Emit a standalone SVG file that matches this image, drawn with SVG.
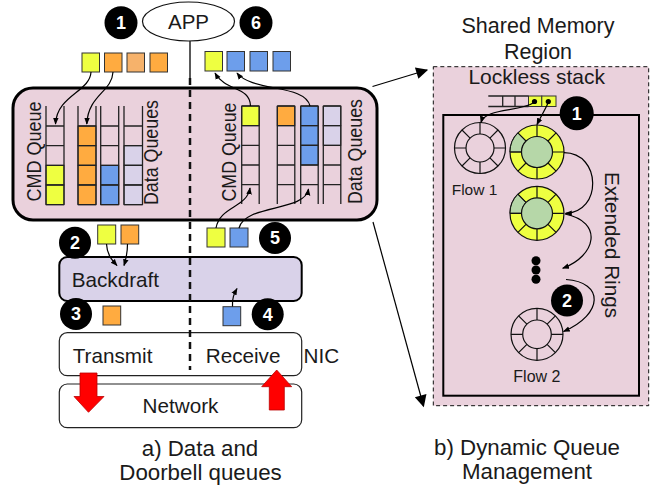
<svg xmlns="http://www.w3.org/2000/svg" width="651" height="486" viewBox="0 0 651 486">
<defs>
<marker id="ah" viewBox="0 0 10 10" refX="9" refY="5" markerWidth="7" markerHeight="7" markerUnits="userSpaceOnUse" orient="auto"><path d="M0,1 L10,5 L0,9 z" fill="#000"/></marker>
<marker id="big" viewBox="0 0 10 10" refX="9" refY="5" markerWidth="16" markerHeight="12" markerUnits="userSpaceOnUse" orient="auto"><path d="M0,0 L10,5 L0,10 z" fill="#000"/></marker>
<style>
.t{font-family:"Liberation Sans",Arial,sans-serif;fill:#1a1a1a}
.num{font-family:"Liberation Sans",Arial,sans-serif;font-weight:bold;font-size:18px;fill:#fff;text-anchor:middle}
.y{fill:#eeff41;stroke:#333;stroke-width:1}
.o{fill:#ffab40;stroke:#333;stroke-width:1}
.lo{fill:#f6b26b;stroke:#333;stroke-width:1}
.b{fill:#6d9eeb;stroke:#333;stroke-width:1}
.l{fill:#d9d2e9;stroke:#333;stroke-width:1}
.ln{stroke:#222;stroke-width:1.3;fill:none}
.c{fill:none;stroke:#000;stroke-width:1.2}
.ring{fill:none;stroke:#111;stroke-width:1.2}
</style>
</defs>

<g id="app">
<ellipse cx="188.5" cy="21.5" rx="46" ry="19.5" fill="#fff" stroke="#111" stroke-width="1.2"/>
<text class="t" x="188.5" y="28.5" font-size="20.5" text-anchor="middle">APP</text>
</g>

<g id="host-queues">
<rect x="13" y="88" width="364" height="132" rx="20" fill="#ead1dc" stroke="#000" stroke-width="3"/>
<rect class="y" x="46" y="165.3" width="18" height="19.7"/>
<rect class="y" x="46" y="185" width="18" height="19.7"/>
<rect class="o" x="78" y="126" width="18" height="19.7"/>
<rect class="o" x="78" y="145.7" width="18" height="19.6"/>
<rect class="o" x="78" y="165.3" width="18" height="19.7"/>
<rect class="o" x="78" y="185" width="18" height="19.7"/>
<rect class="b" x="100.7" y="165.3" width="18" height="19.7"/>
<rect class="b" x="100.7" y="185" width="18" height="19.7"/>
<rect class="l" x="124" y="145.7" width="18.5" height="19.6"/>
<rect class="l" x="124" y="165.3" width="18.5" height="19.7"/>
<rect class="l" x="124" y="185" width="18.5" height="19.7"/>
<path class="ln" d="M46 106V204.7M64 106V204.7M78 106V204.7M96 106V204.7M100.7 106V204.7M118.7 106V204.7M124 106V204.7M142.5 106V204.7
M46 126H64M46 145.7H64M46 165.3H64M46 185H64M46 204.7H64
M78 126H96M78 145.7H96M78 165.3H96M78 185H96M78 204.7H96
M100.7 126H118.7M100.7 145.7H118.7M100.7 165.3H118.7M100.7 185H118.7M100.7 204.7H118.7
M124 126H142.5M124 145.7H142.5M124 165.3H142.5M124 185H142.5M124 204.7H142.5"/>
<rect class="y" x="241.7" y="106" width="17.5" height="19.7"/>
<rect class="o" x="277.3" y="106" width="17.5" height="19.7"/>
<rect class="b" x="300.7" y="106" width="17.5" height="19.7"/>
<rect class="b" x="300.7" y="125.7" width="17.5" height="19.6"/>
<rect class="b" x="300.7" y="145.3" width="17.5" height="19.7"/>
<rect class="l" x="323.3" y="106" width="17.5" height="19.7"/>
<rect class="l" x="323.3" y="125.7" width="17.5" height="19.6"/>
<path class="ln" d="M241.7 106V204M259.2 106V204M277.3 106V204M294.8 106V204M300.7 106V204M318.2 106V204M323.3 106V204M340.8 106V204
M241.7 106H259.2M241.7 125.7H259.2M241.7 145.3H259.2M241.7 165H259.2M241.7 184.7H259.2
M277.3 106H294.8M277.3 125.7H294.8M277.3 145.3H294.8M277.3 165H294.8M277.3 184.7H294.8
M300.7 106H318.2M300.7 125.7H318.2M300.7 145.3H318.2M300.7 165H318.2M300.7 184.7H318.2
M323.3 106H340.8M323.3 125.7H340.8M323.3 145.3H340.8M323.3 165H340.8M323.3 184.7H340.8"/>
<text class="t" font-size="19.5" text-anchor="middle" textLength="100" lengthAdjust="spacingAndGlyphs" transform="translate(40.5,151.5) rotate(-90)">CMD Queue</text>
<text class="t" font-size="19.5" text-anchor="middle" textLength="105" lengthAdjust="spacingAndGlyphs" transform="translate(157.5,152.5) rotate(-90)">Data Queues</text>
<text class="t" font-size="19.5" text-anchor="middle" textLength="99" lengthAdjust="spacingAndGlyphs" transform="translate(235.5,152) rotate(-90)">CMD Queue</text>
<text class="t" font-size="19.5" text-anchor="middle" textLength="105" lengthAdjust="spacingAndGlyphs" transform="translate(362,151.5) rotate(-90)">Data Queues</text>
</g>

<g id="tx-descriptors">
<rect class="y" x="82" y="53" width="17.5" height="19"/>
<rect class="o" x="104.5" y="53" width="17.5" height="19"/>
<rect class="lo" x="127" y="53" width="17.5" height="19"/>
<rect class="o" x="150" y="53" width="17.5" height="19"/>
</g>
<g id="rx-descriptors">
<rect class="y" x="205" y="51.5" width="17.5" height="19.5"/>
<rect class="b" x="227" y="51.5" width="17.5" height="19.5"/>
<rect class="b" x="250" y="51.5" width="17.5" height="19.5"/>
<rect class="b" x="273" y="51.5" width="17.5" height="19.5"/>
</g>
<g id="step2-items">
<rect class="y" x="97.7" y="225" width="18" height="19"/>
<rect class="o" x="121" y="225" width="17.7" height="19"/>
</g>
<g id="step5-items">
<rect class="y" x="207" y="228" width="18" height="19"/>
<rect class="b" x="230" y="228" width="18" height="19"/>
</g>
<g id="step3-item"><rect class="o" x="103" y="306" width="17.7" height="19"/></g>
<g id="step4-item"><rect class="b" x="223" y="306.7" width="17.7" height="19"/></g>

<g id="backdraft">
<rect x="59.3" y="257" width="242.4" height="44" rx="8" fill="#d9d2e9" stroke="#000" stroke-width="2"/>
<text class="t" x="71.7" y="286.5" font-size="20.7">Backdraft</text>
</g>

<g id="nic">
<rect x="59.3" y="332.7" width="242.4" height="43" rx="8" fill="#fff" stroke="#222" stroke-width="1.2"/>
<text class="t" x="72.7" y="362.7" font-size="20.7">Transmit</text>
<text class="t" x="205.7" y="362.7" font-size="20.7">Receive</text>
<text class="t" x="303.5" y="362.7" font-size="20.7">NIC</text>
</g>

<g id="divider">
<line x1="190" y1="41" x2="190" y2="78" stroke="#222" stroke-width="1.5"/>
<line x1="190" y1="78" x2="190" y2="370" stroke="#111" stroke-width="2.5" stroke-dasharray="7 5"/>
</g>

<g id="network">
<rect x="59.3" y="384" width="242.4" height="43.7" rx="8" fill="#fff" stroke="#222" stroke-width="1.2"/>
<text class="t" x="180.5" y="413" font-size="20.7" text-anchor="middle">Network</text>
</g>

<g id="red-arrows">
<path d="M80 373H97V396.5H104L88.5 412.3L74 396.5H80Z" fill="#ff0000" stroke="#b00" stroke-width="0.8"/>
<path d="M276.7 370L291.7 386.7H284.3V410H269.3V386.7H261.7Z" fill="#ff0000" stroke="#b00" stroke-width="0.8"/>
</g>

<g id="badges">
<circle cx="121" cy="22.7" r="16.5" fill="#000"/><text class="num" x="121" y="29">1</text>
<circle cx="256" cy="22.7" r="16.5" fill="#000"/><text class="num" x="256" y="29">6</text>
<circle cx="75" cy="242.7" r="16" fill="#000"/><text class="num" x="75" y="249">2</text>
<circle cx="275" cy="238" r="16" fill="#000"/><text class="num" x="275" y="244.3">5</text>
<circle cx="76" cy="314" r="16" fill="#000"/><text class="num" x="76" y="320.3">3</text>
<circle cx="267.7" cy="314.3" r="16" fill="#000"/><text class="num" x="267.7" y="320.6">4</text>
</g>

<g id="shared-memory">
<text class="t" x="538" y="33" font-size="21.5" text-anchor="middle">Shared Memory</text>
<text class="t" x="538" y="59" font-size="21.5" text-anchor="middle">Region</text>
<rect x="433.3" y="66.7" width="215.4" height="339" fill="#ead1dc" stroke="#111" stroke-width="1" stroke-dasharray="4 3"/>
<text class="t" x="536.7" y="84" font-size="21" text-anchor="middle">Lockless stack</text>
<rect x="443.3" y="115" width="195.7" height="280.7" fill="none" stroke="#000" stroke-width="2"/>
</g>

<g id="lockless-stack">
<rect class="y" x="528.5" y="96" width="13.3" height="10.5"/>
<rect class="y" x="541.8" y="96" width="14.2" height="10.5"/>
<path class="ln" d="M488.3 96H528.5M488.3 106.5H528.5M502.7 96V106.5M515 96V106.5" stroke-width="1"/>
<circle cx="534.5" cy="101.5" r="2.6" fill="#000"/>
<circle cx="548.3" cy="101.5" r="2.6" fill="#000"/>
</g>

<g id="flow1-ring">
<circle cx="480" cy="148" r="25.5" fill="none" stroke="#111" stroke-width="1.2"/>
<circle cx="480" cy="148" r="14" fill="none" stroke="#111" stroke-width="1.2"/>
<path class="ring" d="M494 148H505.5M466 148H454.5M480 134V122.5M480 162V173.5M489.9 138.1L498 130M470.1 157.9L462 166M489.9 157.9L498 166M470.1 138.1L462 130"/>
<text class="t" x="451.7" y="195" font-size="15.5">Flow 1</text>
</g>

<g id="ext-ring1">
<circle cx="537" cy="152" r="27" fill="#eeff41" stroke="#111" stroke-width="1.2"/>
<path d="M510 152A27 27 0 0 1 517.91 132.91L526.04 141.04A15.5 15.5 0 0 0 521.5 152Z" fill="#b6d7a8" stroke="#111" stroke-width="1"/>
<circle cx="537" cy="152" r="15.5" fill="#b6d7a8" stroke="#111" stroke-width="1.2"/>
<path class="ring" d="M552.5 152H564M521.5 152H510M537 136.5V125M537 167.5V179M548 141L556.1 132.9M526 163L517.9 171.1M548 163L556.1 171.1M526 141L517.9 132.9"/>
</g>

<g id="ext-ring2">
<circle cx="537" cy="213.3" r="27" fill="#eeff41" stroke="#111" stroke-width="1.2"/>
<path d="M510 213.3A27 27 0 0 1 517.91 194.21L526.04 202.34A15.5 15.5 0 0 0 521.5 213.3Z" fill="#b6d7a8" stroke="#111" stroke-width="1"/>
<circle cx="537" cy="213.3" r="15.5" fill="#b6d7a8" stroke="#111" stroke-width="1.2"/>
<path class="ring" d="M552.5 213.3H564M521.5 213.3H510M537 197.8V186.3M537 228.8V240.3M548 202.3L556.1 194.2M526 224.3L517.9 232.4M548 224.3L556.1 232.4M526 202.3L517.9 194.2"/>
</g>

<g id="ellipsis-dots">
<circle cx="536" cy="260.7" r="4.5" fill="#000"/>
<circle cx="536" cy="270" r="4.5" fill="#000"/>
<circle cx="536" cy="279.3" r="4.5" fill="#000"/>
</g>

<g id="flow2-ring">
<circle cx="537" cy="334.3" r="26" fill="none" stroke="#111" stroke-width="1.2"/>
<circle cx="537" cy="334.3" r="14.3" fill="none" stroke="#111" stroke-width="1.2"/>
<path class="ring" d="M551.3 334.3H563M522.7 334.3H511M537 320V308.3M537 348.6V360.3M547.1 324.2L555.4 315.9M526.9 344.4L518.6 352.7M547.1 344.4L555.4 352.7M526.9 324.2L518.6 315.9"/>
<text class="t" x="513.3" y="381.7" font-size="16">Flow 2</text>
</g>

<text class="t" font-size="20" text-anchor="middle" textLength="146" lengthAdjust="spacingAndGlyphs" transform="translate(604.5,245) rotate(90)">Extended Rings</text>

<g id="badges-right">
<circle cx="576.7" cy="113.3" r="17" fill="#000"/><text class="num" x="576.7" y="119.6">1</text>
<circle cx="567" cy="300.5" r="16" fill="#000"/><text class="num" x="567" y="306.8">2</text>
</g>

<g id="captions">
<text class="t" x="200" y="455.5" font-size="22.3" text-anchor="middle">a) Data and</text>
<text class="t" x="200.5" y="479.5" font-size="22.3" text-anchor="middle">Doorbell queues</text>
<text class="t" x="527" y="455" font-size="22.3" text-anchor="middle">b) Dynamic Queue</text>
<text class="t" x="527" y="478.5" font-size="22.3" text-anchor="middle">Management</text>
</g>

<g id="connectors">
<path class="c" marker-end="url(#ah)" d="M91 72C90 92 57 95 55.5 124"/>
<path class="c" marker-end="url(#ah)" d="M113 72C112 92 88 95 86.8 124"/>
<path class="c" marker-end="url(#ah)" d="M250.5 106C250 86 226 92 215 73"/>
<path class="c" marker-end="url(#ah)" d="M310 106C305 84 252 92 237 73"/>
<path class="c" marker-end="url(#ah)" d="M216 228C220 206 247 208 250 188"/>
<path class="c" marker-end="url(#ah)" d="M239 228C245 204 305 212 308.5 189"/>
<path class="c" marker-end="url(#ah)" d="M106.5 244C107 255 112 260 117 265.5"/>
<path class="c" marker-end="url(#ah)" d="M127.5 244C127.5 253 126 259 124 265.5"/>
<path class="c" marker-end="url(#ah)" d="M232.5 306.5C232 298 234 294 237 288.5"/>
<path class="c" marker-end="url(#big)" d="M372.5 86.5L427 70" stroke-width="2"/>
<path class="c" marker-end="url(#big)" d="M373 222L423.5 406" stroke-width="2"/>
<path class="c" marker-end="url(#ah)" d="M534 102.5C520 112 485 108 481 122.5"/>
<path class="c" marker-end="url(#ah)" d="M548.3 102.5C545 110 541 116 537 124.5"/>
<path class="c" marker-end="url(#ah)" d="M564 152.7C602 153 602 213 565.5 213.3"/>
<path class="c" marker-end="url(#ah)" d="M565 214C604 222 596 256 562.7 268.3"/>
<path class="c" marker-end="url(#ah)" d="M566 279.5C604 282 604 314 563.5 331.5"/>
</g>
</svg>
